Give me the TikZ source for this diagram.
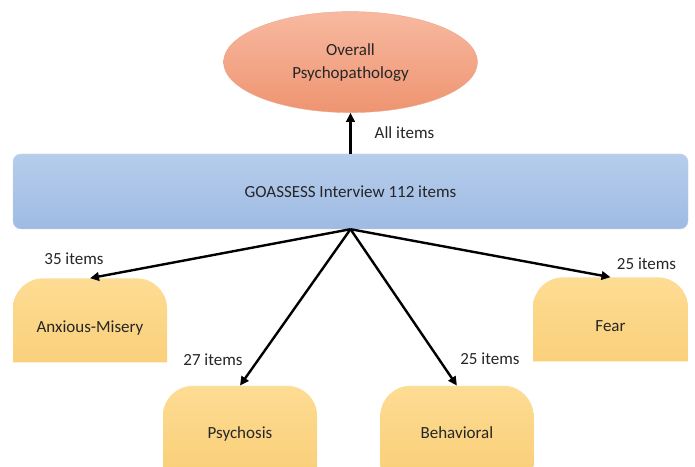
\documentclass[tikz,border=0pt]{standalone}
\usepackage{fontspec}
\setmainfont{Carlito}
\usepackage{xcolor}
\usetikzlibrary{positioning,shapes.geometric,arrows.meta}
\definecolor{ovTop}{HTML}{F8B9A0}
\definecolor{ovBot}{HTML}{EE9471}
\definecolor{ovLine}{HTML}{EBA88F}
\definecolor{barTop}{HTML}{B6CDEC}
\definecolor{barBot}{HTML}{9FBBE3}
\definecolor{catTop}{HTML}{FDDC93}
\definecolor{catBot}{HTML}{FAD07B}
\tikzset{
  figfont/.style={font=\fontsize{17}{23}\selectfont, text=black!85},
  ovalbox/.style={ellipse, draw=ovLine, top color=ovTop, bottom color=ovBot,
    minimum width=254pt, minimum height=101pt, align=center},
  barbox/.style={draw=barBot!70!white, rounded corners=8pt, top color=barTop,
    bottom color=barBot, minimum width=675pt, minimum height=75pt},
  catbox/.style={minimum width=154pt, minimum height=84pt, inner sep=0pt,
    text height=25pt, text depth=0pt,
    path picture={
      \shade[top color=catTop, bottom color=catBot]
        (path picture bounding box.south west)
        -- ([yshift=-30pt]path picture bounding box.north west)
        arc[start angle=180, end angle=90, radius=30pt]
        -- ([xshift=-30pt]path picture bounding box.north east)
        arc[start angle=90, end angle=0, radius=30pt]
        -- (path picture bounding box.south east) -- cycle;
    }},
  itemlabel/.style={inner sep=1pt},
  figarrow/.style={-{Triangle[length=9pt,width=8.5pt]}, line width=2.4pt},
}

\begin{document}
\begin{tikzpicture}[figfont]
  \useasboundingbox (0,0) rectangle (695pt,466pt);

  % Interview bar and overall factor
  \node[barbox] (goassess) at (350.5pt,274.5pt) {GOASSESS Interview 112 items};
  \node[ovalbox, above=41pt of goassess] (overall) {Overall\\Psychopathology};

  % Upper category boxes
  \node[catbox, below right=49pt and 0pt of goassess.south west] (anx) {Anxious-Misery};
  \node[catbox, minimum width=155pt, below left=48pt and 0pt of goassess.south east] (fear) {Fear};

  % Lower category boxes
  \node[catbox, minimum height=81pt, below right=23pt and 150pt of anx.south west] (psy) {Psychosis};
  \node[catbox, minimum height=81pt, minimum width=153pt, right=63pt of psy] (beh) {Behavioral};

  % Arrows
  \coordinate (hub) at (goassess.south);
  \draw[figarrow] (goassess.north) -- (overall.south);
  \draw[figarrow] (hub) -- (anx.north);
  \draw[figarrow] (hub) -- (psy.north);
  \draw[figarrow] (hub) -- (beh.north);
  \draw[figarrow] (hub) -- (fear.north);

  % Item counts
  \node[itemlabel, above right=14pt and 23pt of goassess.north] (alllab) {All items};
  \node[itemlabel, above=12pt of anx.north, xshift=-16pt] (anxlab) {35 items};
  \node[itemlabel, above=19pt of psy.north, xshift=-27pt] (psylab) {27 items};
  \node[itemlabel, above=20pt of beh.north, xshift=33pt] (behlab) {25 items};
  \node[itemlabel, above=6pt of fear.north, xshift=36pt] (fearlab) {25 items};
\end{tikzpicture}
\end{document}
